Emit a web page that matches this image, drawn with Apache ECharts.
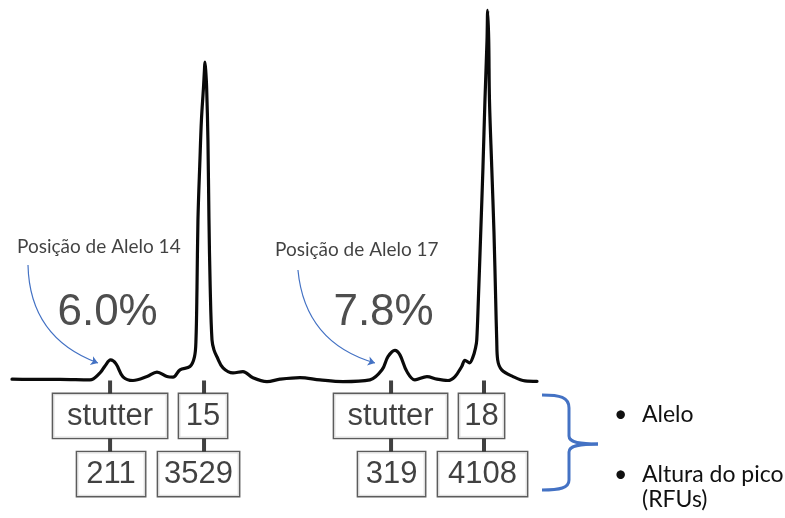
<!DOCTYPE html>
<html><head><meta charset="utf-8">
<script src="https://cdn.jsdelivr.net/npm/echarts@6/dist/echarts.min.js"></script>
<style>html,body{margin:0;padding:0;background:#fff}#c{width:785px;height:518px}</style>
</head><body><div id="c"></div>
<script>
// ---- DATA ----
// electropherogram trace: position in repeat units (allele), height in RFU
const traceX = [12.953,13.144,13.463,13.781,13.888,13.941,14.0,14.058,14.132,14.238,14.387,14.493,14.599,14.663,14.737,14.843,14.891,14.907,14.918,14.928,14.949,14.965,14.987,14.997,15.002,15.01,15.02,15.034,15.045,15.058,15.077,15.098,15.13,15.194,15.3,15.406,15.512,15.661,15.799,16.011,16.224,16.468,16.755,16.883,16.946,17.02,17.073,17.147,17.232,17.36,17.466,17.583,17.658,17.729,17.764,17.812,17.849,17.876,17.889,17.906,17.931,17.955,17.976,17.998,18.005,18.016,18.024,18.048,18.072,18.09,18.101,18.111,18.154,18.274,18.401,18.529];
const traceY = [-3,-5,-5,-11,67,145,211,168,23,-18,26,75,26,19,101,138,246,435,1025,1772,2440,2886,3253,3443,3529,3443,3253,2662,1772,1025,435,324,246,123,67,82,12,-30,-3,15,-11,-30,-11,101,249,319,268,82,-11,26,-3,-18,26,138,207,179,246,346,435,881,1627,2362,3108,3776,4108,3776,3108,2362,1627,881,435,212,101,26,-22,-27];
const alleleCalls = [14, 15, 17, 18];
const alleleLabels = ['stutter', '15', 'stutter', '18'];
const peakHeights = [211, 3529, 319, 4108];
const stutterPairs = [[0, 1], [2, 3]];
const noteLabels = ['Posição de Alelo 14', 'Posição de Alelo 17'];
const legendItems = ['Alelo', 'Altura do pico', '(RFUs)'];

// ---- LAYOUT (positions / sizes / styles) ----
const L = {
  tick1: -90, row1: -413, tick2: -737, row2: -1060,
  boxW1: [116, 50, 115, 47], boxW2: [70, 83, 69, 91],
  dx1: [-0.5, -1.7, -2.5, -5.7], dx2: [0.5, -6.2, -1.5, -4.7], dxTick: [-0.5, -0.7, -2, -3.2],
  pct: 740, pctDx: [-3, -9.5],
  notePos: [[13.006, 1475], [15.746, 1436]],
  arrows: [[[13.123, 1269], [13.866, 177]], [[15.990, 1213], [16.808, 177]]]
};
const boxFont = 'Liberation Sans, Arial, sans-serif';
const noteFont = 'Lato, Noto Sans, sans-serif';
const blue = '#4472C4';

const chart = echarts.init(document.getElementById('c'));

const boxSeries = (labels, widths, dxs, level) => ({
  type: 'scatter', symbolSize: 1, itemStyle: { color: 'rgba(0,0,0,0)' }, silent: true, z: 5,
  data: alleleCalls.map((a, i) => ({
    value: [a, level],
    label: { formatter: labels[i], width: widths[i] - 2, offset: [dxs[i], 0] }
  })),
  label: {
    show: true, position: 'inside', fontSize: 31, fontFamily: boxFont, color: '#111',
    backgroundColor: '#fff', borderColor: '#333', borderWidth: 1.4,
    height: 44, lineHeight: 44, align: 'center', verticalAlign: 'middle', padding: 0
  }
});

const legendText = (t, x, y) => ({ type: 'text', x, y, style: { text: t, fontSize: 23, fontFamily: noteFont, fill: '#111', verticalAlign: 'middle', textVerticalAlign: 'middle' } });

const option = {
  animation: false,
  grid: { left: 7, width: 532, top: 2, bottom: 0 },
  xAxis: { type: 'value', min: 12.9, max: 18.55, show: false },
  yAxis: { type: 'value', min: -1550, max: 4200, show: false },
  series: [
    {
      type: 'line', data: traceX.map((x, i) => [x, traceY[i]]), showSymbol: false, smooth: 0.35,
      lineStyle: { color: '#0a0a0a', width: 3.2, cap: 'round', join: 'round' }, silent: true, z: 3
    },
    {
      type: 'scatter', symbol: 'rect', symbolSize: [4, 13], silent: true, z: 4,
      itemStyle: { color: '#111' },
      data: alleleCalls.flatMap((a, i) => [
        { value: [a, L.tick1], symbolOffset: [L.dxTick[i], 0] },
        { value: [a, L.tick2], symbolOffset: [L.dxTick[i], 0] }
      ])
    },
    boxSeries(alleleLabels, L.boxW1, L.dx1, L.row1),
    boxSeries(peakHeights.map(String), L.boxW2, L.dx2, L.row2),
    {
      type: 'scatter', symbolSize: 1, itemStyle: { color: 'rgba(0,0,0,0)' }, silent: true,
      data: stutterPairs.map(([s, m], k) => ({
        value: [alleleCalls[s], L.pct],
        label: { formatter: (peakHeights[s] / peakHeights[m] * 100).toFixed(1) + '%', offset: [L.pctDx[k], 0] }
      })),
      label: { show: true, position: 'inside', fontSize: 44, fontFamily: boxFont, color: '#222' }
    },
    {
      type: 'scatter', symbolSize: 1, itemStyle: { color: 'rgba(0,0,0,0)' }, silent: true,
      data: noteLabels.map((t, i) => ({ value: L.notePos[i], label: { formatter: t } })),
      label: { show: true, position: 'inside', align: 'left', verticalAlign: 'middle', fontSize: 19, fontFamily: noteFont, color: '#111' }
    },
    {
      type: 'lines', coordinateSystem: 'cartesian2d', silent: true, z: 6,
      symbol: ['none', 'arrow'], symbolSize: 7,
      lineStyle: { color: blue, width: 1.2, curveness: -0.34, opacity: 1 },
      data: L.arrows.map(c => ({ coords: c }))
    }
  ],
  graphic: [
    { type: 'bezierCurve', shape: { x1: 542, y1: 395, cpx1: 560, cpy1: 395, cpx2: 569, cpy2: 397, x2: 569, y2: 408 }, style: { stroke: blue, lineWidth: 3, fill: null } },
    { type: 'line', shape: { x1: 569, y1: 408, x2: 569, y2: 436 }, style: { stroke: blue, lineWidth: 3 } },
    { type: 'bezierCurve', shape: { x1: 569, y1: 436, cpx1: 569, cpy1: 442, cpx2: 578, cpy2: 444, x2: 598, y2: 444 }, style: { stroke: blue, lineWidth: 3, fill: null } },
    { type: 'bezierCurve', shape: { x1: 598, y1: 444, cpx1: 578, cpy1: 444, cpx2: 569, cpy2: 446, x2: 569, y2: 452 }, style: { stroke: blue, lineWidth: 3, fill: null } },
    { type: 'line', shape: { x1: 569, y1: 452, x2: 569, y2: 480 }, style: { stroke: blue, lineWidth: 3 } },
    { type: 'bezierCurve', shape: { x1: 569, y1: 480, cpx1: 569, cpy1: 488, cpx2: 560, cpy2: 490, x2: 542, y2: 490 }, style: { stroke: blue, lineWidth: 3, fill: null } },
    legendText('•', 614, 415),
    legendText(legendItems[0], 642, 415),
    legendText('•', 614, 474.5),
    legendText(legendItems[1], 642, 474.5),
    legendText(legendItems[2], 642, 500)
  ]
};
chart.setOption(option);
</script></body></html>
